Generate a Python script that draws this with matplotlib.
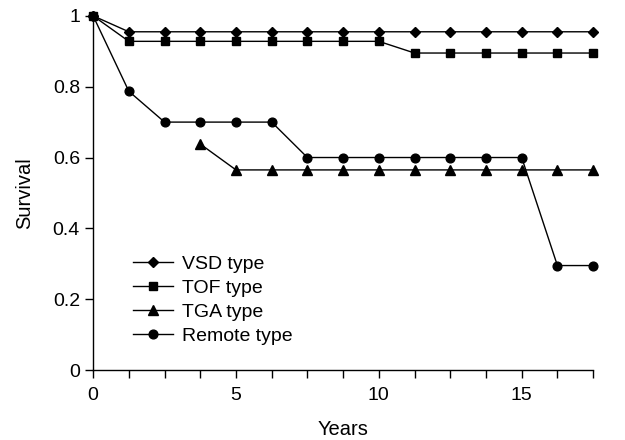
import matplotlib
matplotlib.use("Agg")
import matplotlib.pyplot as plt
from matplotlib.ticker import MultipleLocator

plt.rcParams['font.family'] = ['Liberation Sans', 'DejaVu Sans']

vsd_x = [0, 1.25, 2.5, 3.75, 5, 6.25, 7.5, 8.75, 10, 11.25, 12.5, 13.75, 15, 16.25, 17.5]
vsd_y = [1.0, 0.955, 0.955, 0.955, 0.955, 0.955, 0.955, 0.955, 0.955, 0.955, 0.955, 0.955, 0.955, 0.955, 0.955]

tof_x = [0, 1.25, 2.5, 3.75, 5, 6.25, 7.5, 8.75, 10, 11.25, 12.5, 13.75, 15, 16.25, 17.5]
tof_y = [1.0, 0.928, 0.928, 0.928, 0.928, 0.928, 0.928, 0.928, 0.928, 0.895, 0.895, 0.895, 0.895, 0.895, 0.895]

tga_x = [3.75, 5, 6.25, 7.5, 8.75, 10, 11.25, 12.5, 13.75, 15, 16.25, 17.5]
tga_y = [0.638, 0.565, 0.565, 0.565, 0.565, 0.565, 0.565, 0.565, 0.565, 0.565, 0.565, 0.565]

remote_x = [0, 1.25, 2.5, 3.75, 5, 6.25, 7.5, 8.75, 10, 11.25, 12.5, 13.75, 15, 16.25, 17.5]
remote_y = [1.0, 0.787, 0.70, 0.70, 0.70, 0.70, 0.60, 0.60, 0.60, 0.60, 0.60, 0.60, 0.60, 0.295, 0.295]

labels = ["VSD type", "TOF type", "TGA type", "Remote type"]
y_ticks = [0, 0.2, 0.4, 0.6, 0.8, 1]
y_tick_labels = ["0", "0.2", "0.4", "0.6", "0.8", "1"]
x_ticks = [0, 5, 10, 15]

fig = plt.figure(figsize=(6.25, 4.4), dpi=100)
ax = fig.add_axes([0.149, 0.159, 0.8, 0.805])

common = dict(color='black', linewidth=1.0, clip_on=False)
ax.plot(vsd_x, vsd_y, marker='D', markersize=5.5, label=labels[0], **common)
ax.plot(tof_x, tof_y, marker='s', markersize=5.5, label=labels[1], **common)
ax.plot(tga_x, tga_y, marker='^', markersize=6.5, label=labels[2], **common)
ax.plot(remote_x, remote_y, marker='o', markersize=6.3, label=labels[3], **common)

ax.set_xlim(0, 17.5)
ax.set_ylim(0, 1)
ax.set_xticks(x_ticks)
ax.xaxis.set_minor_locator(MultipleLocator(1.25))
ax.set_yticks(y_ticks)
ax.set_yticklabels(y_tick_labels)
ax.tick_params(axis='both', which='major', direction='out', length=5.5, width=1, labelsize=14, color='black')
ax.tick_params(axis='x', which='major', pad=7)
ax.tick_params(axis='y', which='major', pad=4)
ax.tick_params(axis='x', which='minor', direction='out', length=5.5, width=1)
ax.spines['top'].set_visible(False)
ax.spines['right'].set_visible(False)
for s in ('left', 'bottom'):
    ax.spines[s].set_linewidth(1.0)

ax.set_xlabel("Years", fontsize=14.5, labelpad=11)
ax.set_ylabel("Survival", fontsize=14.5, labelpad=13)

leg = ax.legend(loc='lower left', bbox_to_anchor=(0.08, 0.07), frameon=False, fontsize=14,
                handlelength=2.06, handletextpad=0.46, labelspacing=0.34, borderaxespad=0,
                borderpad=0)

fig.savefig("out.png", dpi=100)
